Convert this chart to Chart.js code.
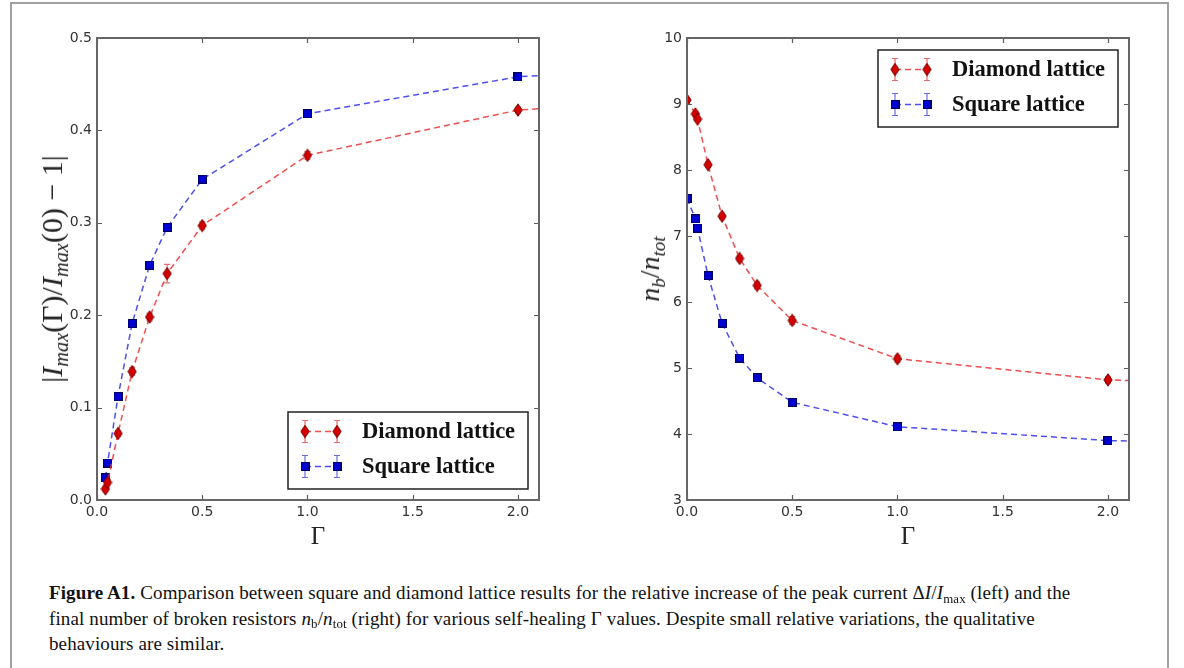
<!DOCTYPE html>
<html>
<head>
<meta charset="utf-8">
<script src="https://cdn.jsdelivr.net/npm/chart.js@4.4.0/dist/chart.umd.min.js"></script>
<style>
body{margin:0;background:#fff;width:1184px;height:668px;overflow:hidden;position:relative;font-family:"DejaVu Sans",sans-serif}
#frame{position:absolute;left:10px;top:2px;width:1155px;height:720px;border:2px solid #a0a0a0}
.box{position:absolute;top:0;width:560px;height:530px}
.lab{position:absolute;font-family:"Liberation Serif",serif;color:#222;white-space:nowrap;transform:translate(-50%,-50%)}
.ylab{font-size:30px;transform:translate(-50%,-50%) rotate(-90deg)}
.ylab.small{font-size:28px}
.xlab{font-size:25px}
.lab sub,#caption sub{font-size:0.68em;vertical-align:baseline;position:relative;top:0.3em}
#caption{position:absolute;left:49px;top:581px;font-family:"Liberation Serif",serif;font-size:19px;letter-spacing:0.12px;line-height:23.5px;color:#111;white-space:nowrap}
</style>
</head>
<body>
<div id="frame"></div>
<div class="box" style="left:0"><canvas id="leftChart" width="560" height="530"></canvas></div>
<div class="box" style="left:590px"><canvas id="rightChart" width="560" height="530"></canvas></div>

<div class="lab ylab" style="left:52px;top:269px">|<i>I</i><sub><i>max</i></sub>(Γ)/<i>I</i><sub><i>max</i></sub>(0) − 1|</div>
<div class="lab ylab small" style="left:650px;top:269px"><i>n</i><sub><i>b</i></sub>/<i>n</i><sub><i>tot</i></sub></div>
<div class="lab xlab" style="left:318px;top:536px">Γ</div>
<div class="lab xlab" style="left:908px;top:536px">Γ</div>

<div id="caption"><b>Figure A1.</b> Comparison between square and diamond lattice results for the relative increase of the peak current Δ<i>I</i>/<i>I</i><sub>max</sub> (left) and the<br>final number of broken resistors <i>n</i><sub>b</sub>/<i>n</i><sub>tot</sub> (right) for various self-healing Γ values. Despite small relative variations, the qualitative<br>behaviours are similar.</div>

<script>
// left panel: |Imax(G)/Imax(0) - 1|
var gammaLeft = [0.04, 0.05, 0.1, 0.1667, 0.25, 0.3333, 0.5, 1, 2, 4];
var diamondLeft = [0.012, 0.019, 0.072, 0.139, 0.198, 0.245, 0.297, 0.373, 0.422, 0.45];
var diamondLeftErr = [0.003, 0.003, 0.003, 0.004, 0.004, 0.010, 0.004, 0.004, 0.003, 0.003];
var squareLeft = [0.024, 0.040, 0.112, 0.191, 0.254, 0.295, 0.347, 0.418, 0.458, 0.483];
var squareLeftErr = [0.003, 0.003, 0.003, 0.003, 0.003, 0.003, 0.003, 0.003, 0.003, 0.003];

// right panel: nb/ntot
var gammaRight = [0, 0.04, 0.05, 0.1, 0.1667, 0.25, 0.3333, 0.5, 1, 2, 4];
var diamondRight = [9.06, 8.85, 8.77, 8.08, 7.30, 6.66, 6.25, 5.72, 5.14, 4.82, 4.62];
var diamondRightErr = [0.03, 0.03, 0.03, 0.04, 0.04, 0.04, 0.05, 0.06, 0.05, 0.05, 0.05];
var squareRight = [7.57, 7.26, 7.12, 6.40, 5.68, 5.15, 4.85, 4.48, 4.11, 3.90, 3.77];
var squareRightErr = [0.03, 0.03, 0.03, 0.03, 0.03, 0.03, 0.03, 0.03, 0.03, 0.03, 0.03];

var xTicks = [0, 0.5, 1, 1.5, 2];
var yTicksLeft = [0, 0.1, 0.2, 0.3, 0.4, 0.5];
var yTicksRight = [3, 4, 5, 6, 7, 8, 9, 10];

Chart.defaults.font.family = '"DejaVu Sans", sans-serif';

function markerDiamond() {
	var c = document.createElement('canvas');
	c.width = 10; c.height = 14;
	var g = c.getContext('2d');
	g.beginPath();
	g.moveTo(5, 0.8); g.lineTo(9.2, 7); g.lineTo(5, 13.2); g.lineTo(0.8, 7);
	g.closePath();
	g.fillStyle = '#d40000'; g.fill();
	g.strokeStyle = '#7a0000'; g.lineWidth = 1; g.stroke();
	return c;
}
function markerSquare() {
	var c = document.createElement('canvas');
	c.width = 9; c.height = 9;
	var g = c.getContext('2d');
	g.fillStyle = '#0000d0'; g.fillRect(0.5, 0.5, 8, 8);
	g.strokeStyle = '#00005a'; g.lineWidth = 1; g.strokeRect(0.5, 0.5, 8, 8);
	return c;
}
var diamondImg = markerDiamond();
var squareImg = markerSquare();

function pts(xs, ys) {
	var out = [];
	for (let i = 0; i < xs.length; i++) out.push({x: xs[i], y: ys[i]});
	return out;
}

function makeSet(label, xs, ys, errs, line, errColor, img) {
	return {
		label: label,
		data: pts(xs, ys),
		errors: errs,
		errColor: errColor,
		marker: img,
		showLine: true,
		borderColor: line,
		borderWidth: 1.5,
		borderDash: [6, 4],
		pointStyle: img,
		pointRadius: 5,
		pointHoverRadius: 5,
		backgroundColor: line
	};
}

// error bars from the scales, under the markers
var errorBars = {
	id: 'errorBars',
	beforeDatasetsDraw: function (chart) {
		var ctx = chart.ctx, a = chart.chartArea;
		var xs = chart.scales.x, ys = chart.scales.y;
		ctx.save();
		ctx.beginPath(); ctx.rect(a.left, a.top, a.right - a.left, a.bottom - a.top); ctx.clip();
		chart.data.datasets.forEach(function (ds) {
			ctx.strokeStyle = ds.errColor;
			ctx.lineWidth = 1.2;
			ds.data.forEach(function (p, i) {
				var px = xs.getPixelForValue(p.x);
				var y1 = ys.getPixelForValue(p.y - ds.errors[i]);
				var y2 = ys.getPixelForValue(p.y + ds.errors[i]);
				ctx.beginPath();
				ctx.moveTo(px, y1); ctx.lineTo(px, y2);
				ctx.moveTo(px - 3, y1); ctx.lineTo(px + 3, y1);
				ctx.moveTo(px - 3, y2); ctx.lineTo(px + 3, y2);
				ctx.stroke();
			});
		});
		ctx.restore();
	}
};

// axes box with inward ticks on all four sides
var boxTicks = {
	id: 'boxTicks',
	afterDatasetsDraw: function (chart) {
		var ctx = chart.ctx, a = chart.chartArea;
		var xs = chart.scales.x, ys = chart.scales.y;
		ctx.save();
		ctx.strokeStyle = '#5c5c5c';
		ctx.lineWidth = 1.2;
		ctx.beginPath();
		xs.ticks.forEach(function (t) {
			var px = Math.round(xs.getPixelForValue(t.value)) + 0.5;
			ctx.moveTo(px, a.bottom); ctx.lineTo(px, a.bottom - 5);
			ctx.moveTo(px, a.top); ctx.lineTo(px, a.top + 5);
		});
		ys.ticks.forEach(function (t) {
			var py = Math.round(ys.getPixelForValue(t.value)) + 0.5;
			ctx.moveTo(a.left, py); ctx.lineTo(a.left + 5, py);
			ctx.moveTo(a.right, py); ctx.lineTo(a.right - 5, py);
		});
		ctx.stroke();
		ctx.lineWidth = 2;
		ctx.strokeStyle = '#666';
		ctx.strokeRect(a.left, a.top, a.right - a.left, a.bottom - a.top);
		ctx.restore();
	}
};

// matplotlib style legend box with error bar samples
var latticeLegend = {
	id: 'latticeLegend',
	afterDraw: function (chart, args, opts) {
		var ctx = chart.ctx, a = chart.chartArea;
		var w = 240, h = 77;
		var bx = a.right - 11 - w;
		var by = opts.pos === 'top' ? a.top + 12 : a.bottom - 11 - h;
		ctx.save();
		ctx.fillStyle = '#fff';
		ctx.fillRect(bx, by, w, h);
		ctx.strokeStyle = '#222';
		ctx.lineWidth = 1.5;
		ctx.strokeRect(bx, by, w, h);
		chart.data.datasets.forEach(function (ds, i) {
			var y = by + 19.5 + i * 35;
			var x1 = bx + 17, x2 = bx + 49;
			ctx.setLineDash(ds.borderDash);
			ctx.strokeStyle = ds.borderColor;
			ctx.lineWidth = ds.borderWidth;
			ctx.beginPath(); ctx.moveTo(x1, y); ctx.lineTo(x2, y); ctx.stroke();
			ctx.setLineDash([]);
			ctx.strokeStyle = ds.errColor;
			ctx.lineWidth = 1.2;
			[x1, x2].forEach(function (x) {
				ctx.beginPath();
				ctx.moveTo(x, y - 11); ctx.lineTo(x, y + 11);
				ctx.moveTo(x - 3, y - 11); ctx.lineTo(x + 3, y - 11);
				ctx.moveTo(x - 3, y + 11); ctx.lineTo(x + 3, y + 11);
				ctx.stroke();
				ctx.drawImage(ds.marker, x - ds.marker.width / 2, y - ds.marker.height / 2);
			});
			ctx.font = 'bold 22.5px "Liberation Serif", serif';
			ctx.fillStyle = '#111';
			ctx.textBaseline = 'middle';
			ctx.fillText(ds.label, bx + 74, y + 1);
		});
		ctx.restore();
	}
};

function buildChart(id, datasets, yMin, yMax, yTicks, digits, legendPos) {
	return new Chart(document.getElementById(id), {
		type: 'scatter',
		data: { datasets: datasets },
		options: {
			responsive: false,
			animation: false,
			layout: { padding: { top: 38, right: 21, left: 0, bottom: 0 } },
			plugins: {
				legend: { display: false },
				tooltip: { enabled: false },
				latticeLegend: { pos: legendPos }
			},
			scales: {
				x: {
					type: 'linear', min: 0, max: 2.1,
					grid: { display: false, drawTicks: false },
					border: { display: false },
					afterBuildTicks: function (s) { s.ticks = xTicks.map(function (v) { return {value: v}; }); },
					afterFit: function (s) { s.height = 30; },
					ticks: { color: '#333', font: { size: 14 }, padding: 4, maxRotation: 0, autoSkip: false,
						callback: function (v) { return v.toFixed(1); } }
				},
				y: {
					type: 'linear', min: yMin, max: yMax,
					grid: { display: false, drawTicks: false },
					border: { display: false },
					afterBuildTicks: function (s) { s.ticks = yTicks.map(function (v) { return {value: v}; }); },
					afterFit: function (s) { s.width = 97; },
					ticks: { color: '#333', font: { size: 14 }, padding: 5, autoSkip: false,
						callback: function (v) { return v.toFixed(digits); } }
				}
			}
		},
		plugins: [errorBars, boxTicks, latticeLegend]
	});
}

buildChart('leftChart', [
	makeSet('Diamond lattice', gammaLeft, diamondLeft, diamondLeftErr, 'rgba(236,60,60,0.9)', 'rgba(225,70,70,0.8)', diamondImg),
	makeSet('Square lattice', gammaLeft, squareLeft, squareLeftErr, 'rgba(60,60,236,0.9)', 'rgba(70,70,225,0.8)', squareImg)
], 0, 0.5, yTicksLeft, 1, 'bottom');

buildChart('rightChart', [
	makeSet('Diamond lattice', gammaRight, diamondRight, diamondRightErr, 'rgba(236,60,60,0.9)', 'rgba(225,70,70,0.8)', diamondImg),
	makeSet('Square lattice', gammaRight, squareRight, squareRightErr, 'rgba(60,60,236,0.9)', 'rgba(70,70,225,0.8)', squareImg)
], 3, 10, yTicksRight, 0, 'top');
</script>
</body>
</html>
